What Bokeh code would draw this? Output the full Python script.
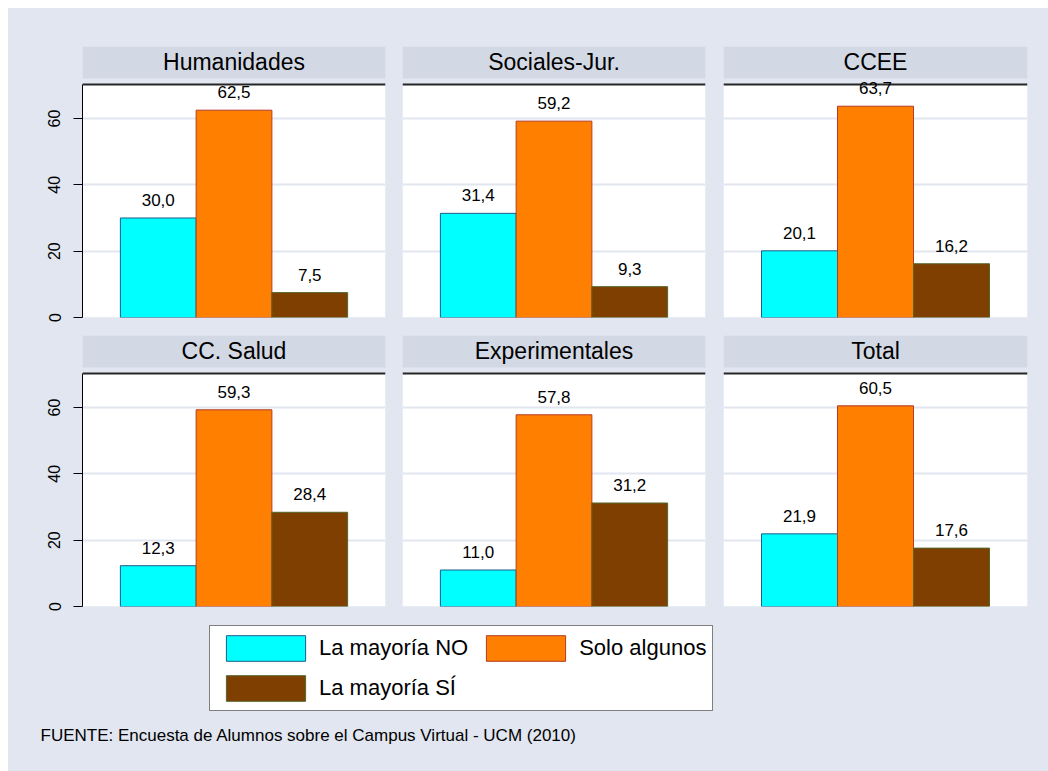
from bokeh.plotting import figure
from bokeh.layouts import column, row
from bokeh.models import (ColumnDataSource, FactorRange, Range1d, LabelSet, Label,
                          BoxAnnotation, Span, FixedTicker, Legend, LegendItem)
from bokeh.core.properties import value
from bokeh.embed import file_html
from bokeh.resources import INLINE

# ---------------- data ----------------
areas = ["Humanidades", "Sociales-Jur.", "CCEE", "CC. Salud", "Experimentales", "Total"]
series = ["La mayoría NO", "Solo algunos", "La mayoría SÍ"]
mayoria_no = [30.0, 31.4, 20.1, 12.3, 11.0, 21.9]
solo_algunos = [62.5, 59.2, 63.7, 59.3, 57.8, 60.5]
mayoria_si = [7.5, 9.3, 16.2, 28.4, 31.2, 17.6]
y_ticks = [0, 20, 40, 60]
source_note = "FUENTE: Encuesta de Alumnos sobre el Campus Virtual - UCM (2010)"

# ---------------- style ----------------
fill_colors = ["#00FFFF", "#FF7F00", "#7F3F00"]
line_colors = ["#1F5C8A", "#B23A26", "#55662A"]
BG = "#E1E6F0"
STRIP = "#D3D9E4"
GRID = "#E1E6F0"
FONT = "Liberation Sans"

Y_MAX = 81.7
PLOT_TOP = 70.24
STRIP_BOTTOM = 72.05
STRIP_MID = 76.9

col_layout = [(386, 74, 9), (320, 8, 9), (334, 9, 21)]   # width, border left, border right
row_layout = [(318, 38, 9), (289, 9, 9)]                # height, border top, border bottom

all_series = [mayoria_no, solo_algunos, mayoria_si]


def fmt(v):
    return f"{v:.1f}".replace(".", ",")


def panel(i):
    r, c = divmod(i, 3)
    w, bl, br = col_layout[c]
    h, bt, bb = row_layout[r]
    vals = [s[i] for s in all_series]
    src = ColumnDataSource(dict(x=series, y=vals, text=[fmt(v) for v in vals],
                                fill=fill_colors, line=line_colors))
    p = figure(width=w, height=h,
               x_range=FactorRange(factors=series, range_padding=0.5,
                                   range_padding_units="absolute"),
               y_range=Range1d(0, Y_MAX),
               output_backend="svg", toolbar_location=None, tools="",
               x_axis_location=None,
               y_axis_location="left" if c == 0 else None,
               min_border_left=bl, min_border_right=br,
               min_border_top=bt, min_border_bottom=bb,
               background_fill_color=BG, border_fill_color=BG,
               outline_line_color=None)
    p.xgrid.visible = False
    p.ygrid.ticker = FixedTicker(ticks=y_ticks)
    p.ygrid.grid_line_color = GRID
    p.ygrid.grid_line_width = 2

    p.add_layout(BoxAnnotation(bottom=0, top=PLOT_TOP, fill_color="white", fill_alpha=1,
                               line_color=None, level="image"))
    p.add_layout(BoxAnnotation(bottom=STRIP_BOTTOM, top=Y_MAX, fill_color=STRIP,
                               fill_alpha=1, line_color=None, level="image"))
    p.add_layout(Span(location=PLOT_TOP, dimension="width", line_color="#262626",
                      line_width=2))

    if c == 0:
        ax = p.yaxis[0]
        ax.ticker = FixedTicker(ticks=y_ticks)
        ax.bounds = (0, PLOT_TOP)
        ax.axis_line_color = "black"
        ax.axis_line_width = 1
        ax.major_tick_line_color = "black"
        ax.major_tick_out = 9
        ax.major_tick_in = 0
        ax.minor_tick_out = 0
        ax.minor_tick_in = 0
        ax.major_label_orientation = "vertical"
        ax.major_label_text_font = FONT
        ax.major_label_text_font_size = "16px"
        ax.major_label_text_color = "black"
        ax.major_label_standoff = 13

    p.vbar(x="x", top="y", bottom=0, width=1.0, source=src,
           fill_color="fill", line_color="line", line_width=1)
    p.add_layout(LabelSet(x="x", y="y", text="text", source=src,
                          text_align="center", text_baseline="alphabetic",
                          y_offset=12, text_font=value(FONT),
                          text_font_size="17px", text_color="black"))
    fw = w - bl - br
    p.add_layout(Label(x=fw / 2, y=STRIP_MID, x_units="screen", y_units="data",
                       text=areas[i], text_align="center", text_baseline="middle",
                       text_font=FONT, text_font_size="23px", text_color="black"))
    return p


panels = [panel(i) for i in range(6)]

# legend + source note
lf = figure(width=1040, height=156, x_range=FactorRange(factors=series),
            y_range=Range1d(0, 100),
            output_backend="svg", toolbar_location=None, tools="",
            x_axis_location=None, y_axis_location=None, min_border=0,
            background_fill_color=BG, border_fill_color=BG, outline_line_color=None)
lf.grid.visible = False
rends = []
for k, (fc, lc) in enumerate(zip(fill_colors, line_colors)):
    r = lf.vbar(x=[series[k]], top=[all_series[k][-1]], width=1,
                fill_color=fc, line_color=lc, line_width=1)
    r.visible = False
    rends.append(r)
legend = Legend(items=[LegendItem(label=s, renderers=[r]) for s, r in zip(series, rends)],
                location=(201, 60), orientation="horizontal", ncols=2,
                glyph_width=99, glyph_height=32, label_standoff=4,
                spacing=8, padding=6, margin=0,
                label_text_font=FONT, label_text_font_size="22px",
                label_text_color="black",
                inactive_fill_alpha=0,
                border_line_color="black", border_line_width=1,
                background_fill_color="white", background_fill_alpha=1)
lf.add_layout(legend)
lf.add_layout(Label(x=32, y=36, x_units="screen", y_units="screen", text=source_note,
                    text_font=FONT, text_font_size="17px", text_baseline="middle",
                    text_align="left", text_color="black"))

bgstyle = {"background-color": BG}
layout = column(row(*panels[:3], styles=bgstyle),
                row(*panels[3:], styles=bgstyle),
                lf, styles=bgstyle, margin=(8, 0, 0, 8))

with open("out.html", "w") as f:
    f.write(file_html(layout, INLINE))
